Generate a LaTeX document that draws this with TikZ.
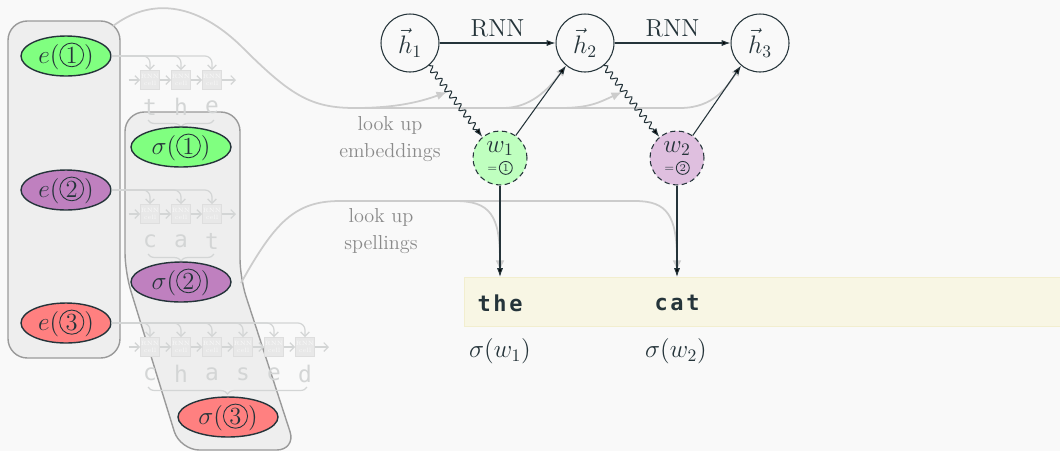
\documentclass[tikz,border=0pt]{standalone}
\usepackage{fontspec}
\newfontfamily\codefont[LetterSpace=12]{DejaVu Sans Mono}
\newfontfamily\ghostfont{DejaVu Sans Mono}
\usetikzlibrary{shapes.geometric,decorations.pathmorphing,decorations.pathreplacing,arrows.meta}

\definecolor{bgcol}{HTML}{F9F9F9}
\definecolor{ink}{HTML}{25343A}
\definecolor{boxgray}{HTML}{EEEEEE}
\definecolor{boxline}{HTML}{9A9A9A}
\definecolor{wordA}{HTML}{80FF80}
\definecolor{wordB}{HTML}{BF80BF}
\definecolor{wordC}{HTML}{FF8080}
\definecolor{wordAlight}{HTML}{BFFFBF}
\definecolor{wordBlight}{HTML}{DFBFDF}
\definecolor{lookcol}{HTML}{CCCCCC}
\definecolor{ghostcol}{HTML}{D3D5D5}
\definecolor{cellcol}{HTML}{E8E8E8}
\definecolor{spellcol}{HTML}{F8F6E4}
\definecolor{spellline}{HTML}{F2EECF}
\definecolor{notecol}{HTML}{8A8A8A}

\newcommand{\cn}[1]{\tikz[baseline=(cnum.base)] \node[circle, solid, draw=ink, fill=none, text=ink, line width=0.5pt, inner sep=0.7pt, minimum size=0pt] (cnum) {#1};}
\newcommand{\mathsize}{\fontsize{14}{17}\selectfont}

\tikzset{
  group/.style={draw=boxline, fill=boxgray, line width=0.8pt, rounded corners=11pt},
  emb/.style={ellipse, draw=ink, text=ink, line width=0.8pt, minimum width=1.8cm, minimum height=0.8cm, inner sep=0pt, font=\mathsize},
  sig/.style={emb, minimum width=2cm},
  hstate/.style={circle, draw=ink, text=ink, line width=0.6pt, minimum size=1.16cm, inner sep=0pt, fill=bgcol, font=\mathsize},
  wnode/.style={circle, draw=ink, text=ink, dash pattern=on 3pt off 2pt, line width=0.6pt, minimum size=1.08cm, inner sep=0pt, align=center, font=\mathsize},
  cellbox/.style={draw=cellcol!90!gray, fill=cellcol, minimum size=0.38cm, inner sep=0pt, align=center, text=white!75!cellcol, font=\fontsize{3.5}{4}\selectfont},
  ghost/.style={draw=ghostcol, line width=0.7pt},
  ghosttip/.style={ghost, -{Straight Barb[length=2.5pt,width=5pt]}},
  letter/.style={text=ghostcol, font=\ghostfont\fontsize{13}{13}\selectfont},
  lookup/.style={draw=lookcol, line width=1pt, -{Latex[length=6pt,width=5pt]}},
  flow/.style={draw=ink, line width=0.6pt, -{Latex[length=5pt,width=3.5pt]}},
  label/.style={text=ink, font=\mathsize},
  note/.style={text=notecol, align=center, font=\fontsize{11.5}{15.4}\selectfont},
  spellbox/.style={draw=spellline, fill=spellcol, line width=0.6pt, inner sep=0pt},
  code/.style={text=ink, font=\codefont\bfseries\fontsize{12.5}{13}\selectfont}
}

\begin{document}
\begin{tikzpicture}[x=0.02cm, y=-0.02cm]
  \fill[bgcol] (0,0) rectangle (1060,451);
  \useasboundingbox (0,0) rectangle (1060,451);

  \draw[group] (8,21) rectangle (120,358);
  \draw[group] (125,112) -- (240,112) -- (240,278) -- (296,450) -- (180,450) -- (125,272) -- cycle;

  \node[emb, fill=wordA] (e1) at (66,56) {$e(\cn{1})$};
  \node[emb, fill=wordB] (e2) at (66,190) {$e(\cn{2})$};
  \node[emb, fill=wordC] (e3) at (66,323) {$e(\cn{3})$};

  \foreach \row/\y/\last/\word in {1/56/212/{t,h,e}, 2/190/212/{c,a,t}, 3/323/305/{c,h,a,s,e,d}} {
    \foreach \ch [count=\i, evaluate=\i as \x using 119+31*\i] in \word {
      \node[cellbox] (c\row-\i) at (\x,\y+24) {RNN\\cell};
      \node[letter] at (\x,\y+51) {\ch};
      \draw[ghosttip] (\x-21.5,\y+24) -- (c\row-\i.west);
      \draw[ghosttip, rounded corners=4pt] (e\row.east) -- (\x,\y) -- (c\row-\i.north);
    }
    \draw[ghosttip] (\last+9.5,\y+24) -- (\last+24,\y+24);
    \draw[ghost, decorate, decoration={brace, mirror, amplitude=4pt}] (148,\y+64) -- (\last+2,\y+64);
  }

  \node[sig, fill=wordA] (s1) at (181,147) {$\sigma(\cn{1})$};
  \node[sig, fill=wordB] (s2) at (181,282) {$\sigma(\cn{2})$};
  \node[sig, fill=wordC] (s3) at (228,417) {$\sigma(\cn{3})$};

  \node[hstate] (h1) at (410,43) {$\vec{h}_1$};
  \node[hstate] (h2) at (585,43) {$\vec{h}_2$};
  \node[hstate] (h3) at (760,43) {$\vec{h}_3$};
  \node[wnode, fill=wordAlight] (w1) at (500,158) {$w_1$\\[-6pt]{\fontsize{6}{6}\selectfont$=$\,\cn{1}}};
  \node[wnode, fill=wordBlight] (w2) at (677,158) {$w_2$\\[-6pt]{\fontsize{6}{6}\selectfont$=$\,\cn{2}}};

  \node[spellbox, anchor=north west, minimum width=11.92cm, minimum height=0.98cm] (spell) at (464,277) {};
  \node[code] (the) at (500,303) {the};
  \node[code] (cat) at (677,303) {cat};
  \node[label] (sw1) at (500,351) {$\sigma(w_1)$};
  \node[label] (sw2) at (676,351) {$\sigma(w_2)$};

  \node[note] (embnote) at (390,139) {look up\\embeddings};
  \node[note] (spellnote) at (381,231) {look up\\spellings};

  \coordinate (embstart) at (113,26);
  \coordinate (embA) at (447,92);
  \coordinate (embB) at (622,92);
  \coordinate (spellstart) at (241,283);
  \coordinate (spellA) at (500,271);
  \coordinate (spellB) at (677,271);

  \draw[lookup] (embstart) .. controls (150,-2) and (195,2) .. (240,45) .. controls (290,95) and (310,108) .. (355,108) -- (680,108) .. controls (715,108) and (728,85) .. (h3.-130);
  \draw[lookup] (355,108) .. controls (395,108) and (420,102) .. (embA);
  \draw[lookup] (503,108) .. controls (530,108) and (548,90) .. (h2.-130);
  \draw[lookup] (560,108) .. controls (590,108) and (600,102) .. (embB);
  \draw[lookup] (spellstart) .. controls (275,222) and (295,201) .. (340,201) -- (455,201) .. controls (490,201) and (500,215) .. (spellA);
  \draw[lookup] (455,201) -- (635,201) .. controls (667,201) and (677,215) .. (spellB);

  \draw[flow] (h1) -- node[label, above] {RNN} (h2);
  \draw[flow] (h2) -- node[label, above] {RNN} (h3);
  \draw[flow, decorate, decoration={snake, amplitude=1.6pt, segment length=4.5pt, post length=5pt}] (h1.-50) -- (w1.130);
  \draw[flow, decorate, decoration={snake, amplitude=1.6pt, segment length=4.5pt, post length=5pt}] (h2.-50) -- (w2.130);
  \draw[flow] (w1.55) -- (h2.-130);
  \draw[flow] (w2.55) -- (h3.-130);
  \draw[flow] (w1) -- (w1 |- spell.north);
  \draw[flow] (w2) -- (w2 |- spell.north);
\end{tikzpicture}
\end{document}
